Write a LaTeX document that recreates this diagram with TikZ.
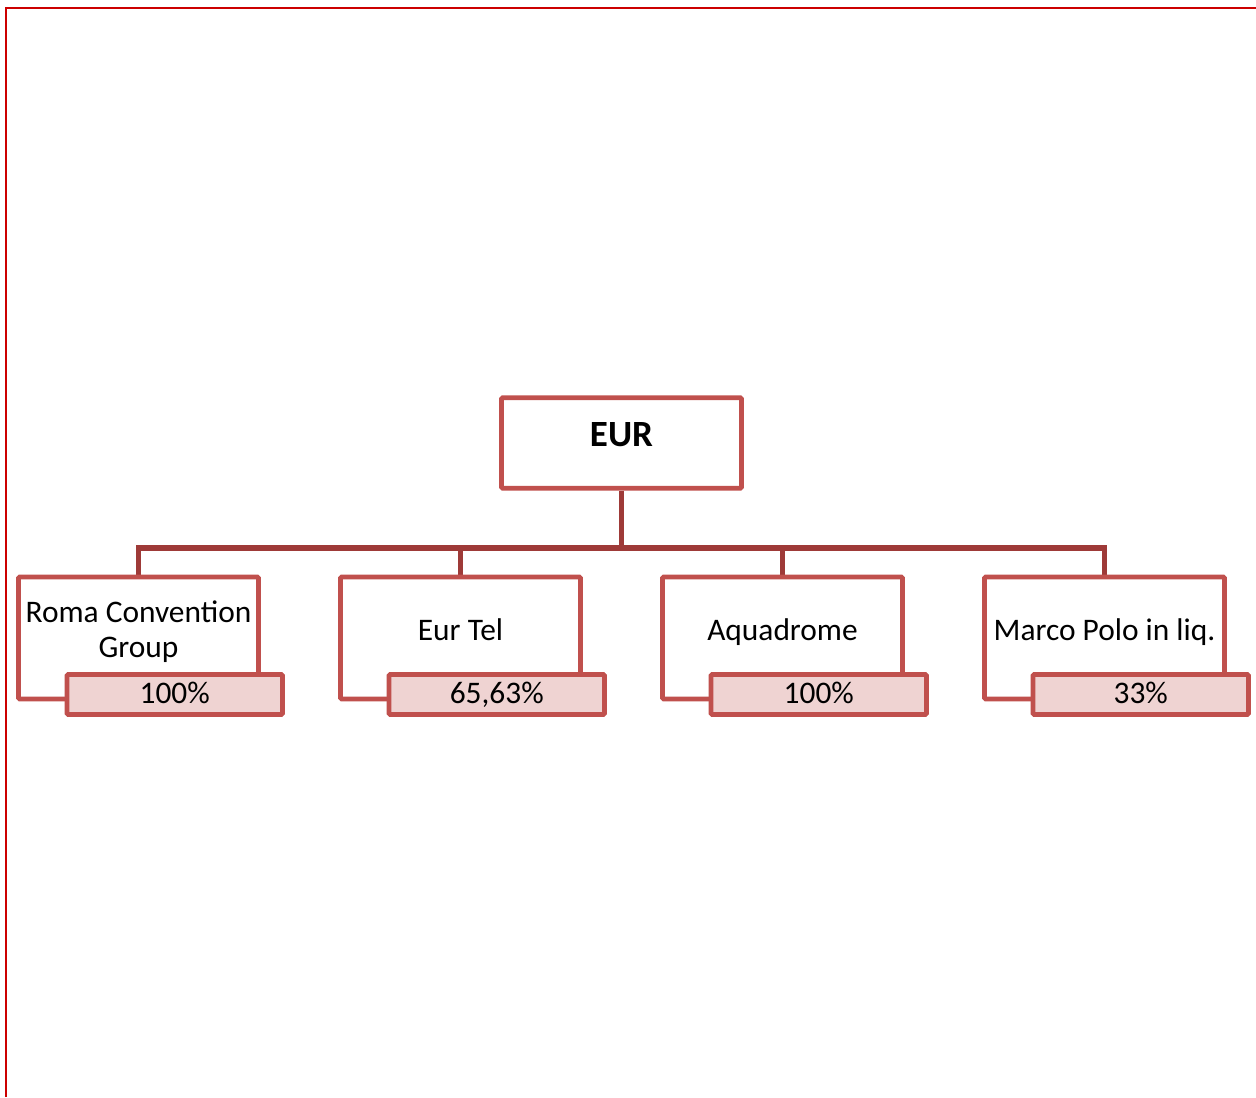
\documentclass[tikz,border=0pt]{standalone}
\usepackage{fontspec}
\setmainfont{Carlito}
\usetikzlibrary{positioning}
\definecolor{BoxRed}{RGB}{192,80,77}
\definecolor{LinkRed}{RGB}{158,58,56}
\definecolor{FrameRed}{RGB}{204,0,0}

\begin{document}
\begin{tikzpicture}[
    x=0.5pt, y=-0.5pt,
    unit/.style={draw=BoxRed, line width=2.4pt, fill=white, rounded corners=0.6pt,
        minimum width=120pt, minimum height=61pt, inner sep=0pt},
    topunit/.style={unit, minimum height=45.25pt, text depth=8.5pt,
        font=\fontsize{18.5}{21}\selectfont\bfseries},
    share/.style={draw=BoxRed, line width=2.4pt, fill=BoxRed!25, rounded corners=0.6pt,
        minimum width=107.75pt, minimum height=20pt, inner sep=0pt, text depth=1.6pt,
        font=\fontsize{15.7}{17.5}\selectfont},
    unitname/.style={align=center, inner sep=0pt, text depth=3.3pt,
        font=\fontsize{15.7}{17.5}\selectfont},
    link/.style={draw=LinkRed, line width=2.6pt},
]
\useasboundingbox (0,0) rectangle (1256,1097);

% cornice
\draw[FrameRed, line width=1pt] (6,1097) -- (6,8.3) -- (1256,8.3);

% capogruppo
\node[topunit] (eur) at (621.5,443) {EUR};
\coordinate (bus) at (621.5,548);

% partecipate
\foreach \x/\id/\txt/\pct in {138.5/roma/{Roma Convention\\Group}/100\%,
    460.5/eurtel/{Eur Tel}/{65,63\%},
    782.5/aqua/{Aquadrome}/100\%,
    1104.5/marco/{Marco Polo in liq.}/33\%}{
  \draw[link] (bus) -| (\x,577);
  \node[unit] (\id) at (\x,638) {};
  \node[unitname] (\id-name) at (\x,632.5) {\txt};
  \node[share] (\id-pct) at (\x+36.25,694.5) {\pct};
}

% collegamenti
\draw[link] (eur.south) -- (bus);

\end{tikzpicture}
\end{document}
